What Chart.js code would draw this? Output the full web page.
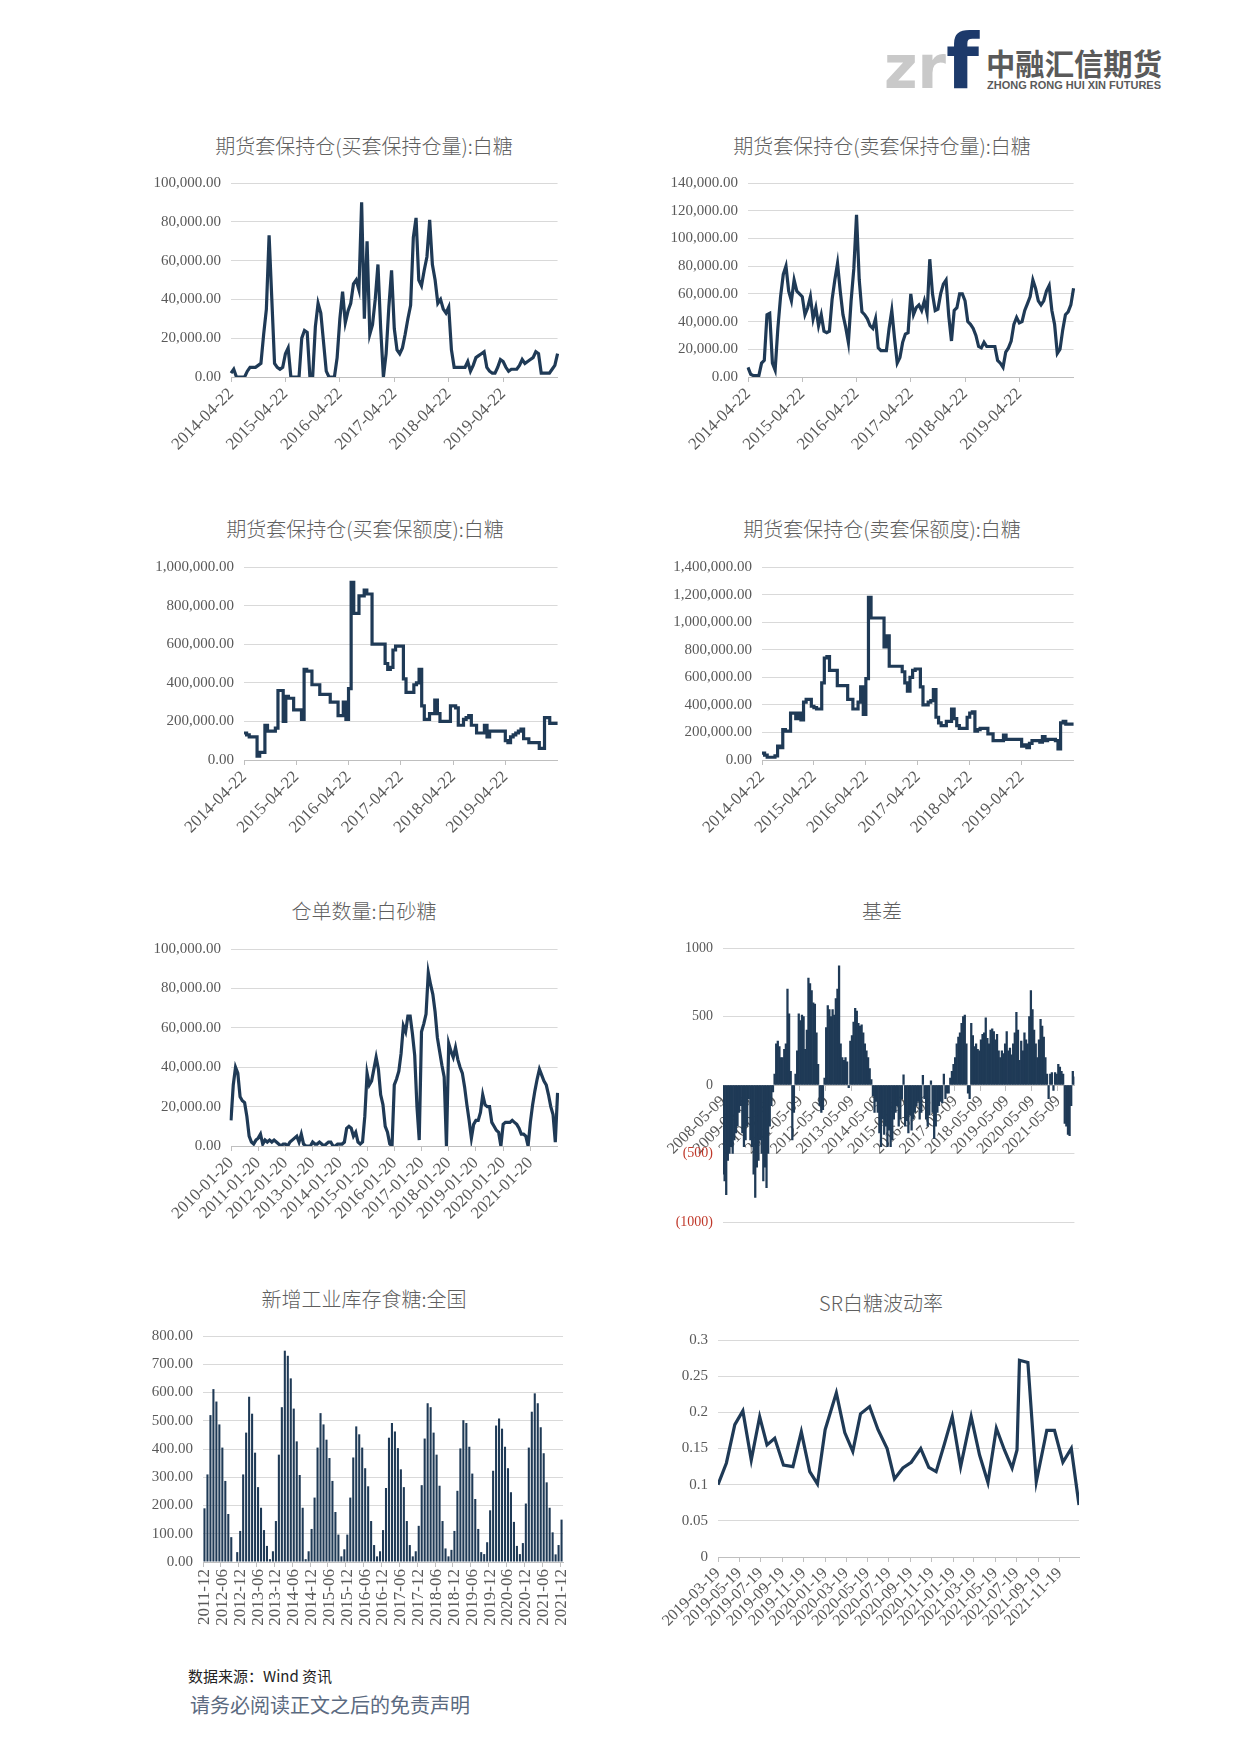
<!DOCTYPE html>
<html>
<head>
<meta charset="utf-8">
<script src="https://cdn.jsdelivr.net/npm/chart.js@4.4.0/dist/chart.umd.min.js"></script>
<style>
  body { margin: 0; width: 1241px; height: 1755px; background: #fff; position: relative; overflow: hidden; }
  canvas { position: absolute; }
  .title { position: absolute; transform: translate(-50%, -50%); white-space: nowrap; font-size: 20px; color: #5f5f5f; font-family: "Noto Sans CJK SC", sans-serif; font-weight: 300; }
  .src { position: absolute; left: 188px; top: 1665px; font-size: 15px; color: #222; font-family: "Noto Sans CJK SC", sans-serif; }
  .note { position: absolute; left: 190px; top: 1690px; font-size: 20px; color: #5b6a80; font-family: "Noto Sans CJK SC", sans-serif; }
  svg { position: absolute; }
</style>
</head>
<body>

<svg style="left:880px;top:25px" width="300" height="72">
  <text x="4" y="63" font-family="DejaVu Sans" font-weight="bold" font-size="60" fill="#c9c9c9" textLength="62" lengthAdjust="spacingAndGlyphs">zr</text>
  <text x="66" y="63" font-family="DejaVu Sans" font-weight="bold" font-size="76" fill="#1d3a6b">f</text>
  <text x="106" y="50" font-family="Noto Sans CJK SC" font-weight="bold" font-size="30" fill="#5a5a5a" textLength="176" lengthAdjust="spacingAndGlyphs">中融汇信期货</text>
  <text x="107" y="64" font-family="Liberation Sans" font-weight="bold" font-size="11" fill="#5a5a5a" textLength="174" lengthAdjust="spacingAndGlyphs">ZHONG RONG HUI XIN FUTURES</text>
</svg>

<div class="title" style="left:364px;top:145px">期货套保持仓(买套保持仓量):白糖</div>
<div class="title" style="left:882px;top:145px">期货套保持仓(卖套保持仓量):白糖</div>
<div class="title" style="left:365px;top:528px">期货套保持仓(买套保额度):白糖</div>
<div class="title" style="left:882px;top:528px">期货套保持仓(卖套保额度):白糖</div>
<div class="title" style="left:364px;top:910px">仓单数量:白砂糖</div>
<div class="title" style="left:882px;top:910px">基差</div>
<div class="title" style="left:364px;top:1298px">新增工业库存食糖:全国</div>
<div class="title" style="left:881px;top:1302px">SR白糖波动率</div>

<canvas id="c1"></canvas>
<canvas id="c2"></canvas>
<canvas id="c3"></canvas>
<canvas id="c4"></canvas>
<canvas id="c5"></canvas>
<canvas id="c6"></canvas>
<canvas id="c7"></canvas>
<canvas id="c8"></canvas>

<div class="src">数据来源：Wind 资讯</div>
<div class="note">请务必阅读正文之后的免责声明</div>

<script>
// ---- data ----
const holdTicks = ['2014-04-22', '2015-04-22', '2016-04-22', '2017-04-22', '2018-04-22', '2019-04-22'];

// 买套保持仓量 (20 pts per year)
const buyHedgeLots = [2000,4000,0,0,0,0,3000,5000,5000,5000,
  6000,7000,22000,35000,73000,40000,7000,5000,4000,5000,
  12000,15000,0,0,0,0,20000,24000,23000,0,
  0,26000,38000,33000,18000,3000,0,0,0,10000,
  30000,44000,28000,34000,38000,48000,50000,45000,90000,30000,
  70000,22000,27000,40000,58000,25000,0,12000,36000,55000,
  25000,14000,12000,15000,22000,30000,37000,72000,82000,50000,
  47000,55000,62000,81000,58000,50000,38000,40000,35000,33000,
  36000,14000,5000,5000,5000,5000,5000,8000,3000,6000,
  10000,11000,12000,13000,5000,3000,2000,2000,5000,9000,
  8000,5000,3000,4000,4000,4000,6000,9000,7000,8000,
  9000,10000,13000,12000,2000,2000,2000,2000,4000,6000,
  12000];

// 卖套保持仓量
const sellHedgeLots = [7000,2000,1000,1000,1000,10000,12000,45000,46000,10000,
  5000,35000,58000,74000,80000,62000,55000,70000,62000,60000,
  58000,45000,50000,58000,42000,50000,37000,45000,33000,32000,
  33000,56000,70000,82000,62000,45000,36000,25000,55000,78000,
  117000,70000,47000,45000,42000,37000,35000,42000,21000,19000,
  19000,19000,35000,48000,28000,10000,14000,25000,31000,32000,
  60000,45000,50000,52000,48000,55000,46000,85000,60000,48000,
  49000,60000,67000,70000,44000,26000,48000,50000,60000,60000,
  55000,40000,38000,35000,30000,22000,21000,25000,22000,22000,
  22000,22000,12000,10000,7000,18000,21000,26000,38000,43000,
  39000,40000,48000,53000,58000,70000,64000,55000,52000,55000,
  62000,66000,48000,38000,17000,20000,34000,45000,47000,52000,
  64000];

// 买套保额度
const buyHedgeQuota = [140000,130000,120000,120000,120000,20000,40000,40000,180000,150000,
  150000,150000,165000,360000,360000,200000,330000,320000,320000,260000,
  260000,260000,210000,470000,460000,460000,390000,390000,390000,340000,
  340000,340000,340000,300000,300000,300000,230000,230000,300000,210000,
  370000,920000,760000,760000,850000,850000,880000,860000,860000,600000,
  600000,600000,600000,600000,500000,470000,480000,570000,590000,590000,
  590000,420000,350000,350000,350000,390000,400000,470000,280000,210000,
  210000,240000,240000,310000,240000,200000,200000,200000,200000,280000,
  280000,270000,180000,180000,210000,220000,230000,180000,180000,140000,
  140000,140000,180000,120000,150000,150000,150000,150000,150000,150000,
  100000,90000,120000,130000,140000,150000,160000,110000,110000,90000,
  90000,90000,90000,60000,60000,220000,220000,190000,190000,190000,
  190000];

// 卖套保额度
const sellHedgeQuota = [50000,35000,20000,20000,20000,30000,100000,90000,220000,210000,
  210000,340000,340000,300000,340000,290000,420000,440000,440000,390000,
  380000,370000,370000,560000,740000,750000,650000,650000,650000,540000,
  540000,540000,540000,440000,440000,370000,370000,420000,530000,330000,
  590000,1180000,1030000,1030000,1030000,1030000,1030000,820000,900000,680000,
  680000,680000,680000,680000,640000,560000,500000,600000,650000,660000,
  660000,530000,400000,400000,420000,430000,510000,310000,270000,250000,
  250000,280000,280000,370000,300000,250000,230000,230000,230000,310000,
  340000,350000,210000,220000,230000,230000,230000,190000,190000,140000,
  140000,140000,140000,180000,150000,150000,150000,150000,150000,150000,
  100000,110000,90000,120000,140000,140000,140000,130000,170000,140000,
  150000,150000,150000,140000,80000,270000,280000,260000,260000,260000,
  260000];

// 仓单数量:白砂糖 (12 pts per year)
const warrantTicks = ['2010-01-20', '2011-01-20', '2012-01-20', '2013-01-20', '2014-01-20', '2015-01-20',
  '2016-01-20', '2017-01-20', '2018-01-20', '2019-01-20', '2020-01-20', '2021-01-20'];
const warrants = [13000,31000,40000,37000,25000,23000,22000,15000,5000,2000,
  1000,3000,4000,6000,1000,3000,2000,3000,2000,3000,
  2000,1000,0,1000,1000,0,2000,3000,4000,5000,
  2000,6000,1000,0,0,0,2000,1000,1000,2000,
  1000,0,1000,2000,2000,0,0,1000,1000,1000,
  2000,9000,10000,9000,5000,7000,2000,1000,2000,15000,
  37000,31000,33000,39000,45000,39000,26000,21000,10000,7000,
  1000,0,31000,34000,38000,47000,61000,58000,66000,66000,
  57000,46000,20000,3000,58000,62000,67000,88000,82000,77000,
  68000,55000,48000,41000,35000,0,52000,48000,45000,50000,
  44000,40000,37000,30000,21000,13000,4000,11000,13000,13000,
  17000,26000,21000,20000,20000,12000,10000,8000,7000,0,
  11000,12000,12000,12000,13000,12000,11000,9000,6000,6000,
  5000,0,12000,21000,28000,34000,39000,36000,33000,31000,
  26000,20000,16000,2000,27000];

// 基差 (16 pts per year)
const basisTicks = ['2008-05-09', '2009-05-09', '2010-05-09', '2011-05-09', '2012-05-09', '2013-05-09', '2014-05-09',
  '2015-05-09', '2016-05-09', '2017-05-09', '2018-05-09', '2019-05-09', '2020-05-09', '2021-05-09'];
const basis = [-650,-700,-800,-550,-500,-450,-500,-400,-350,-300,
  -200,-150,-350,-450,-400,-300,-100,-400,-450,-650,
  -820,-600,-550,-400,-500,-700,-600,-750,-500,-300,
  -150,-50,80,300,320,280,200,200,260,300,
  700,520,100,-400,-200,80,250,520,470,510,
  500,260,400,780,740,690,600,590,380,150,
  -150,-200,-180,50,420,580,550,500,550,510,
  630,700,870,300,200,180,200,170,-20,320,
  360,460,560,540,450,430,440,380,300,250,
  200,120,40,-80,-200,-120,-200,-350,-450,-250,
  -360,-300,-450,-330,-450,-400,-250,-200,-150,-300,
  -250,-100,75,-300,-260,-350,-220,-330,-250,-200,
  -150,-120,-250,-200,70,-100,-250,-300,-220,30,
  -200,-390,-300,-200,-150,-120,-130,80,-100,-60,
  -60,50,100,150,200,300,350,380,450,500,
  510,300,-60,-100,450,360,280,300,260,250,
  330,370,380,490,340,300,400,410,390,330,
  370,250,200,250,230,300,390,250,270,220,
  300,380,530,400,180,320,250,380,330,300,
  500,690,550,400,300,200,330,480,430,350,
  200,80,-100,80,90,-40,90,80,150,130,
  100,80,-280,-300,-360,-370,-150,100,60];

// 新增工业库存食糖:全国 (monthly from 2011-12)
const stockTicks = ['2011-12', '2012-06', '2012-12', '2013-06', '2013-12', '2014-06', '2014-12', '2015-06', '2015-12',
  '2016-06', '2016-12', '2017-06', '2017-12', '2018-06', '2018-12', '2019-06', '2019-12', '2020-06', '2020-12',
  '2021-06', '2021-12'];
const newStock = [190,310,520,612,568,487,405,287,170,88,
  0,35,110,310,458,585,525,387,265,192,
  113,57,10,38,145,380,548,748,730,650,
  543,427,308,192,10,38,117,228,405,527,
  487,433,368,287,177,97,20,45,97,228,
  370,480,452,405,332,268,145,60,20,38,
  113,262,440,492,462,403,328,265,145,60,
  20,38,128,272,437,562,548,458,380,270,
  145,48,20,43,110,252,402,502,492,408,
  313,223,117,35,28,70,183,323,483,508,
  472,408,332,247,142,57,28,67,207,405,
  532,597,562,477,385,282,192,105,27,60,
  150];

// SR白糖波动率
const srTicks = ['2019-03-19', '2019-05-19', '2019-07-19', '2019-09-19', '2019-11-19', '2020-01-19', '2020-03-19',
  '2020-05-19', '2020-07-19', '2020-09-19', '2020-11-19', '2021-01-19', '2021-03-19', '2021-05-19', '2021-07-19',
  '2021-09-19', '2021-11-19'];
const srDates = ['2019-03-19','2019-04-12','2019-05-06','2019-05-29','2019-06-22','2019-07-16','2019-08-06','2019-08-28',
  '2019-09-22','2019-10-19','2019-11-12','2019-12-06','2019-12-28','2020-01-19','2020-02-20','2020-03-15','2020-04-07',
  '2020-04-29','2020-05-25','2020-06-18','2020-07-14','2020-08-04','2020-08-28','2020-09-21','2020-10-18','2020-11-10',
  '2020-12-01','2020-12-25','2021-01-16','2021-02-09','2021-03-11','2021-04-04','2021-04-28','2021-05-22','2021-06-14',
  '2021-07-06','2021-07-20','2021-07-27','2021-08-20','2021-09-13','2021-10-13','2021-11-04','2021-11-28','2021-12-22',
  '2022-01-13'];
const srVol = [0.100,0.130,0.183,0.202,0.134,0.194,0.155,0.164,0.127,0.125,
  0.173,0.118,0.101,0.176,0.227,0.172,0.146,0.198,0.208,0.176,
  0.150,0.108,0.123,0.131,0.150,0.124,0.118,0.157,0.194,0.125,
  0.194,0.141,0.103,0.178,0.148,0.123,0.148,0.272,0.269,0.104,
  0.175,0.175,0.131,0.150,0.072];

// ---- helpers ----
const NAVY = '#1f3a56';
const GRID = '#d9d9d9';
const TXT = '#595959';
const PAD_T = 22, PAD_R = 12, PAD_B = 22;   // y labels need ~19px above/below the plot

Chart.defaults.font.family = '"Liberation Serif", "Noto Sans CJK SC", serif';
Chart.defaults.color = TXT;

function tickedLabels(n, step, ticks) {
  const out = [];
  for (let i = 0; i < n; i++) {
    out.push(i % step === 0 && ticks[i / step] !== undefined ? ticks[i / step] : '');
  }
  return out;
}

function money(v) {
  return Number(v).toLocaleString('en-US', { minimumFractionDigits: 2, maximumFractionDigits: 2 });
}

function xCat(rot, size) {
  return {
    type: 'category',
    offset: false,
    grid: {
      display: true, drawOnChartArea: false, tickLength: 5,
      color: c => (c.tick && c.tick.label !== '') ? '#bfbfbf' : 'rgba(0,0,0,0)'
    },
    border: { display: true, color: '#bfbfbf' },
    ticks: { autoSkip: false, maxRotation: rot, minRotation: rot, padding: 2, color: TXT, font: { size: size } }
  };
}

function yLin(min, max, step, fmt, size) {
  return {
    min: min, max: max,
    grid: { color: GRID, lineWidth: 1, drawTicks: false },
    border: { display: false },
    ticks: { stepSize: step, callback: fmt, padding: 10, color: TXT, font: { size: size } }
  };
}

function makeChart(id, plot, yW, xH, cfg) {
  const cv = document.getElementById(id);
  cv.width = plot.r - plot.l + yW + PAD_R;
  cv.height = plot.b - plot.t + PAD_T + xH + PAD_B;
  cv.style.left = (plot.l - yW) + 'px';
  cv.style.top = (plot.t - PAD_T) + 'px';
  cfg.options.responsive = false;
  cfg.options.animation = false;
  cfg.options.layout = { padding: { top: PAD_T, right: PAD_R, bottom: PAD_B, left: 0 } };
  cfg.options.plugins = { legend: { display: false }, tooltip: { enabled: false } };
  cfg.options.scales.y.afterFit = s => { s.width = yW; };
  cfg.options.scales.x.afterFit = s => { s.height = xH; };
  return new Chart(cv, cfg);
}

function lineCfg(labels, values, ymax, ystep, stepped) {
  return {
    type: 'line',
    data: {
      labels: labels,
      datasets: [{ data: values, borderColor: NAVY, borderWidth: 3.2, pointRadius: 0, tension: 0, stepped: stepped, fill: false }]
    },
    options: { scales: { x: xCat(45, 17), y: yLin(0, ymax, ystep, money, 15) } }
  };
}

// ---- charts ----
makeChart('c1', { l: 231, r: 562, t: 183, b: 377 }, 85, 85,
  lineCfg(tickedLabels(buyHedgeLots.length, 20, holdTicks), buyHedgeLots, 100000, 20000, false));

makeChart('c2', { l: 748, r: 1078, t: 183, b: 377 }, 85, 85,
  lineCfg(tickedLabels(sellHedgeLots.length, 20, holdTicks), sellHedgeLots, 140000, 20000, false));

makeChart('c3', { l: 244, r: 562, t: 567, b: 760 }, 95, 85,
  lineCfg(tickedLabels(buyHedgeQuota.length, 20, holdTicks), buyHedgeQuota, 1000000, 200000, true));

makeChart('c4', { l: 762, r: 1078, t: 567, b: 760 }, 95, 85,
  lineCfg(tickedLabels(sellHedgeQuota.length, 20, holdTicks), sellHedgeQuota, 1400000, 200000, true));

makeChart('c5', { l: 231, r: 562, t: 949, b: 1146 }, 85, 85,
  lineCfg(tickedLabels(warrants.length, 12, warrantTicks), warrants, 100000, 20000, false));

// 基差: x axis sits on the zero line
const basisX = xCat(45, 16);
basisX.position = { y: 0 };
const basisY = yLin(-1000, 1000, 500, v => v < 0 ? '(' + (-v) + ')' : String(v), 14);
basisY.ticks.color = c => c.tick.value < 0 ? '#c0392b' : TXT;
makeChart('c6', { l: 723, r: 1078, t: 948, b: 1222 }, 70, 0, {
  type: 'bar',
  data: {
    labels: tickedLabels(basis.length, 16, basisTicks),
    datasets: [{ data: basis, backgroundColor: NAVY, borderWidth: 0, barPercentage: 1, categoryPercentage: 1 }]
  },
  options: { scales: { x: basisX, y: basisY } }
});

// 新增工业库存食糖
const stockX = xCat(90, 17);
stockX.offset = true;
makeChart('c7', { l: 203, r: 572, t: 1336, b: 1562 }, 60, 80, {
  type: 'bar',
  data: {
    labels: tickedLabels(newStock.length, 6, stockTicks),
    datasets: [{ data: newStock, backgroundColor: NAVY, borderWidth: 0, barPercentage: 0.7, categoryPercentage: 1 }]
  },
  options: { scales: { x: stockX, y: yLin(0, 800, 100, v => Number(v).toFixed(2), 15) } }
});

// SR白糖波动率: linear day axis
const dayNum = s => Date.parse(s + 'T00:00:00Z') / 86400000;
makeChart('c8', { l: 718, r: 1079, t: 1340, b: 1557 }, 60, 85, {
  type: 'line',
  data: {
    datasets: [{
      data: srDates.map((d, i) => ({ x: dayNum(d), y: srVol[i] })),
      borderColor: NAVY, borderWidth: 3.2, pointRadius: 0, tension: 0, fill: false
    }]
  },
  options: {
    scales: {
      x: {
        type: 'linear',
        min: dayNum(srDates[0]),
        max: dayNum(srDates[srDates.length - 1]),
        afterBuildTicks: s => { s.ticks = srTicks.map(d => ({ value: dayNum(d) })); },
        grid: { display: true, drawOnChartArea: false, tickLength: 5, color: '#bfbfbf' },
        border: { display: true, color: '#bfbfbf' },
        ticks: { autoSkip: false, maxRotation: 45, minRotation: 45, padding: 2, color: TXT, font: { size: 16 },
          callback: (v, i) => srTicks[i] }
      },
      y: yLin(0, 0.3, 0.05, v => String(+Number(v).toFixed(2)), 15)
    }
  }
});
</script>
</body>
</html>
